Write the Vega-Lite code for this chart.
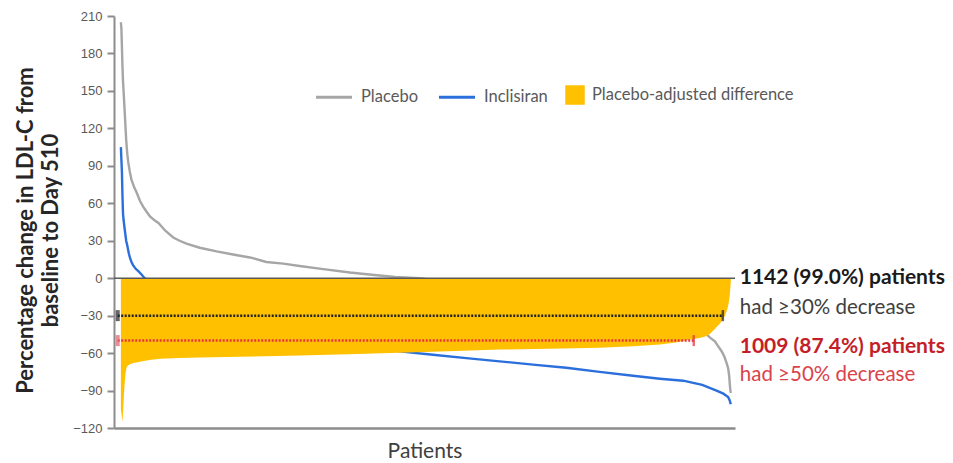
{
  "$schema": "https://vega.github.io/schema/vega-lite/v6.json",
  "width": 621,
  "height": 412,
  "autosize": {"type": "none"},
  "padding": {"left": 114, "top": 16, "right": 218, "bottom": 35},
  "background": "white",
  "config": {"view": {"stroke": null}, "font": "Lato", "axis": {"labelOverlap": false}, "axisY": {"labelOverlap": false, "tickCount": 12}},
  "datasets": {
    "curves": [
      {"series": "Placebo", "patient": 1, "value": 205},
      {"series": "Placebo", "patient": 2, "value": 200},
      {"series": "Placebo", "patient": 3, "value": 185},
      {"series": "Placebo", "patient": 4, "value": 170},
      {"series": "Placebo", "patient": 5, "value": 158},
      {"series": "Placebo", "patient": 7, "value": 143},
      {"series": "Placebo", "patient": 9, "value": 127},
      {"series": "Placebo", "patient": 11, "value": 111},
      {"series": "Placebo", "patient": 13, "value": 100},
      {"series": "Placebo", "patient": 15, "value": 92.7},
      {"series": "Placebo", "patient": 18, "value": 85},
      {"series": "Placebo", "patient": 21, "value": 79},
      {"series": "Placebo", "patient": 26, "value": 73},
      {"series": "Placebo", "patient": 31, "value": 68.4},
      {"series": "Placebo", "patient": 37, "value": 62},
      {"series": "Placebo", "patient": 43, "value": 57.3},
      {"series": "Placebo", "patient": 50, "value": 53},
      {"series": "Placebo", "patient": 56, "value": 49.5},
      {"series": "Placebo", "patient": 64, "value": 46.5},
      {"series": "Placebo", "patient": 72, "value": 44.3},
      {"series": "Placebo", "patient": 85, "value": 38},
      {"series": "Placebo", "patient": 100, "value": 32.6},
      {"series": "Placebo", "patient": 112, "value": 30},
      {"series": "Placebo", "patient": 125, "value": 27.6},
      {"series": "Placebo", "patient": 150, "value": 24.4},
      {"series": "Placebo", "patient": 182, "value": 21.5},
      {"series": "Placebo", "patient": 213, "value": 19},
      {"series": "Placebo", "patient": 245, "value": 16.6},
      {"series": "Placebo", "patient": 276, "value": 13},
      {"series": "Placebo", "patient": 308, "value": 11.7},
      {"series": "Placebo", "patient": 339, "value": 9.8},
      {"series": "Placebo", "patient": 380, "value": 7.5},
      {"series": "Placebo", "patient": 434, "value": 4.5},
      {"series": "Placebo", "patient": 480, "value": 2.5},
      {"series": "Placebo", "patient": 520, "value": 1},
      {"series": "Placebo", "patient": 566, "value": 0},
      {"series": "Placebo", "patient": 650, "value": -5},
      {"series": "Placebo", "patient": 750, "value": -11},
      {"series": "Placebo", "patient": 850, "value": -17},
      {"series": "Placebo", "patient": 950, "value": -23},
      {"series": "Placebo", "patient": 1000, "value": -27},
      {"series": "Placebo", "patient": 1060, "value": -33},
      {"series": "Placebo", "patient": 1090, "value": -39},
      {"series": "Placebo", "patient": 1108, "value": -45},
      {"series": "Placebo", "patient": 1116, "value": -48},
      {"series": "Placebo", "patient": 1124, "value": -50.5},
      {"series": "Placebo", "patient": 1131, "value": -55},
      {"series": "Placebo", "patient": 1137, "value": -58.7},
      {"series": "Placebo", "patient": 1142, "value": -63},
      {"series": "Placebo", "patient": 1146, "value": -67.8},
      {"series": "Placebo", "patient": 1149, "value": -72},
      {"series": "Placebo", "patient": 1151, "value": -78.2},
      {"series": "Placebo", "patient": 1152, "value": -84},
      {"series": "Placebo", "patient": 1153, "value": -89},
      {"series": "Placebo", "patient": 1154, "value": -92},
      {"series": "Inclisiran", "patient": 1, "value": 105},
      {"series": "Inclisiran", "patient": 2, "value": 95},
      {"series": "Inclisiran", "patient": 3, "value": 84.6},
      {"series": "Inclisiran", "patient": 4, "value": 66},
      {"series": "Inclisiran", "patient": 5, "value": 52},
      {"series": "Inclisiran", "patient": 6, "value": 47},
      {"series": "Inclisiran", "patient": 8, "value": 40},
      {"series": "Inclisiran", "patient": 11, "value": 30},
      {"series": "Inclisiran", "patient": 13, "value": 26.3},
      {"series": "Inclisiran", "patient": 16, "value": 20},
      {"series": "Inclisiran", "patient": 18, "value": 16.6},
      {"series": "Inclisiran", "patient": 21, "value": 13},
      {"series": "Inclisiran", "patient": 24, "value": 10.5},
      {"series": "Inclisiran", "patient": 29, "value": 7.5},
      {"series": "Inclisiran", "patient": 34, "value": 5.6},
      {"series": "Inclisiran", "patient": 40, "value": 3},
      {"series": "Inclisiran", "patient": 46, "value": 0},
      {"series": "Inclisiran", "patient": 70, "value": -8},
      {"series": "Inclisiran", "patient": 100, "value": -16},
      {"series": "Inclisiran", "patient": 150, "value": -27},
      {"series": "Inclisiran", "patient": 200, "value": -35},
      {"series": "Inclisiran", "patient": 300, "value": -45},
      {"series": "Inclisiran", "patient": 400, "value": -52},
      {"series": "Inclisiran", "patient": 470, "value": -55.5},
      {"series": "Inclisiran", "patient": 528, "value": -58.6},
      {"series": "Inclisiran", "patient": 591, "value": -61.3},
      {"series": "Inclisiran", "patient": 654, "value": -64},
      {"series": "Inclisiran", "patient": 717, "value": -66.6},
      {"series": "Inclisiran", "patient": 780, "value": -69.2},
      {"series": "Inclisiran", "patient": 843, "value": -71.7},
      {"series": "Inclisiran", "patient": 906, "value": -75},
      {"series": "Inclisiran", "patient": 969, "value": -78.2},
      {"series": "Inclisiran", "patient": 1020, "value": -80.5},
      {"series": "Inclisiran", "patient": 1064, "value": -82.1},
      {"series": "Inclisiran", "patient": 1100, "value": -85.5},
      {"series": "Inclisiran", "patient": 1127, "value": -90},
      {"series": "Inclisiran", "patient": 1140, "value": -92.5},
      {"series": "Inclisiran", "patient": 1149, "value": -95.2},
      {"series": "Inclisiran", "patient": 1152, "value": -98},
      {"series": "Inclisiran", "patient": 1154, "value": -101}
    ],
    "difference": [
      {"measure": "Placebo-adjusted difference", "patient": 1, "value": -105},
      {"measure": "Placebo-adjusted difference", "patient": 2, "value": -108},
      {"measure": "Placebo-adjusted difference", "patient": 3, "value": -112},
      {"measure": "Placebo-adjusted difference", "patient": 4, "value": -115},
      {"measure": "Placebo-adjusted difference", "patient": 5, "value": -108},
      {"measure": "Placebo-adjusted difference", "patient": 6, "value": -100},
      {"measure": "Placebo-adjusted difference", "patient": 7, "value": -92},
      {"measure": "Placebo-adjusted difference", "patient": 8, "value": -85},
      {"measure": "Placebo-adjusted difference", "patient": 9, "value": -80},
      {"measure": "Placebo-adjusted difference", "patient": 10, "value": -76},
      {"measure": "Placebo-adjusted difference", "patient": 12, "value": -71},
      {"measure": "Placebo-adjusted difference", "patient": 15, "value": -70},
      {"measure": "Placebo-adjusted difference", "patient": 18, "value": -69},
      {"measure": "Placebo-adjusted difference", "patient": 25, "value": -68},
      {"measure": "Placebo-adjusted difference", "patient": 37, "value": -67},
      {"measure": "Placebo-adjusted difference", "patient": 55, "value": -65.5},
      {"measure": "Placebo-adjusted difference", "patient": 75, "value": -64.5},
      {"measure": "Placebo-adjusted difference", "patient": 110, "value": -64},
      {"measure": "Placebo-adjusted difference", "patient": 150, "value": -63.5},
      {"measure": "Placebo-adjusted difference", "patient": 250, "value": -62.8},
      {"measure": "Placebo-adjusted difference", "patient": 339, "value": -62},
      {"measure": "Placebo-adjusted difference", "patient": 430, "value": -61},
      {"measure": "Placebo-adjusted difference", "patient": 528, "value": -59.8},
      {"measure": "Placebo-adjusted difference", "patient": 620, "value": -58.5},
      {"measure": "Placebo-adjusted difference", "patient": 717, "value": -57.2},
      {"measure": "Placebo-adjusted difference", "patient": 810, "value": -56.5},
      {"measure": "Placebo-adjusted difference", "patient": 906, "value": -55.7},
      {"measure": "Placebo-adjusted difference", "patient": 970, "value": -54.5},
      {"measure": "Placebo-adjusted difference", "patient": 1020, "value": -53.2},
      {"measure": "Placebo-adjusted difference", "patient": 1050, "value": -51.5},
      {"measure": "Placebo-adjusted difference", "patient": 1077, "value": -49.2},
      {"measure": "Placebo-adjusted difference", "patient": 1095, "value": -48},
      {"measure": "Placebo-adjusted difference", "patient": 1106, "value": -46.8},
      {"measure": "Placebo-adjusted difference", "patient": 1115, "value": -44.5},
      {"measure": "Placebo-adjusted difference", "patient": 1121, "value": -42},
      {"measure": "Placebo-adjusted difference", "patient": 1130, "value": -38},
      {"measure": "Placebo-adjusted difference", "patient": 1136, "value": -35},
      {"measure": "Placebo-adjusted difference", "patient": 1141, "value": -31.5},
      {"measure": "Placebo-adjusted difference", "patient": 1144, "value": -29},
      {"measure": "Placebo-adjusted difference", "patient": 1148, "value": -24},
      {"measure": "Placebo-adjusted difference", "patient": 1150, "value": -20},
      {"measure": "Placebo-adjusted difference", "patient": 1152, "value": -14},
      {"measure": "Placebo-adjusted difference", "patient": 1153, "value": -9},
      {"measure": "Placebo-adjusted difference", "patient": 1154, "value": -3}
    ],
    "thresholds": [
      {"group": "30", "threshold": -30, "from": -5, "to": 1139},
      {"group": "50", "threshold": -50, "from": -5, "to": 1084}
    ],
    "notes": [
      {"group": "30", "role": "count", "patient": 1171, "value": 0, "label": "1142 (99.0%) patients"},
      {"group": "30", "role": "desc", "patient": 1171, "value": -24, "label": "had ≥30% decrease"},
      {"group": "50", "role": "count", "patient": 1171, "value": -55.5, "label": "1009 (87.4%) patients"},
      {"group": "50", "role": "desc", "patient": 1171, "value": -77.5, "label": "had ≥50% decrease"}
    ],
    "baseline": [{"value": 0}]
  },
  "layer": [
    {
      "data": {"name": "curves"},
      "mark": {"type": "line", "strokeWidth": 2.4, "interpolate": "linear"},
      "encoding": {
        "x": {
          "field": "patient", "type": "quantitative",
          "scale": {"domain": [-12, 1162], "nice": false, "zero": false},
          "axis": {
            "title": "Patients", "labels": false, "ticks": false, "grid": false,
            "domainColor": "#8c8c8c", "domainWidth": 2.5,
            "titleFont": "Lato", "titleFontSize": 21, "titleFontWeight": "normal",
            "titleColor": "#404040", "titlePadding": 12
          }
        },
        "y": {
          "field": "value", "type": "quantitative",
          "scale": {"domain": [-120, 210], "nice": false, "zero": false},
          "axis": {
            "title": ["Percentage change in LDL-C from", "baseline to Day 510"],
            "values": [-120, -90, -60, -30, 0, 30, 60, 90, 120, 150, 180, 210],
            "labelOverlap": false,
            "tickCount": 12,
            "grid": false,
            "domainColor": "#8c8c8c", "domainWidth": 2,
            "tickColor": "#8c8c8c", "tickWidth": 2, "tickSize": 7,
            "labelFont": "Liberation Sans",
            "labelFontSize": 13, "labelColor": "#595959", "labelPadding": 5,
            "titleFont": "Lato", "titleFontSize": 22, "titleFontWeight": "bold",
            "titleColor": "#262626", "titleLineHeight": 25, "titlePadding": 10,
            "titleY": 214
          }
        },
        "stroke": {
          "field": "series", "type": "nominal",
          "scale": {"domain": ["Placebo", "Inclisiran"], "range": ["#a6a6a6", "#2a6fdb"]},
          "legend": {
            "orient": "none", "legendX": 200, "legendY": 61, "direction": "horizontal",
            "title": null, "symbolType": "stroke", "symbolSize": 1300, "symbolStrokeWidth": 3,
            "labelFont": "Lato", "labelFontSize": 16.5, "labelColor": "#595959", "labelLimit": 0,
            "labelOffset": 7, "columnPadding": 14, "padding": 0
          }
        }
      }
    },
    {
      "data": {"name": "difference"},
      "mark": {"type": "area", "opacity": 1, "interpolate": "linear"},
      "encoding": {
        "x": {"field": "patient", "type": "quantitative"},
        "y": {"field": "value", "type": "quantitative"},
        "y2": {"datum": 0},
        "fill": {
          "field": "measure", "type": "nominal",
          "scale": {"range": ["#ffc000"]},
          "legend": {
            "orient": "none", "legendX": 451, "legendY": 69,
            "title": null, "symbolType": "square", "symbolSize": 380, "symbolStrokeWidth": 0,
            "labelFont": "Lato", "labelFontSize": 16.5, "labelColor": "#595959", "labelLimit": 0,
            "labelOffset": 7, "padding": 0
          }
        }
      }
    },
    {
      "data": {"name": "baseline"},
      "mark": {"type": "rule", "color": "#595959", "strokeWidth": 1.5},
      "encoding": {"y": {"field": "value", "type": "quantitative"}}
    },
    {
      "data": {"name": "thresholds"},
      "mark": {"type": "rule", "strokeWidth": 2.5, "strokeDash": [2, 1.5]},
      "encoding": {
        "x": {"field": "from", "type": "quantitative"},
        "x2": {"field": "to"},
        "y": {"field": "threshold", "type": "quantitative"},
        "color": {"condition": {"test": "datum.group === '50'", "value": "#e8363d"}, "value": "#222222"}
      }
    },
    {
      "data": {"name": "thresholds"},
      "mark": {"type": "tick", "orient": "vertical", "size": 11, "thickness": 4},
      "encoding": {
        "x": {"field": "from", "type": "quantitative"},
        "y": {"field": "threshold", "type": "quantitative"},
        "color": {"condition": {"test": "datum.group === '50'", "value": "#e05c6a"}, "value": "#222222"}
      }
    },
    {
      "data": {"name": "thresholds"},
      "mark": {"type": "tick", "orient": "vertical", "size": 11, "thickness": 2.5},
      "encoding": {
        "x": {"field": "to", "type": "quantitative"},
        "y": {"field": "threshold", "type": "quantitative"},
        "color": {"condition": {"test": "datum.group === '50'", "value": "#e0303a"}, "value": "#222222"}
      }
    },
    {
      "data": {"name": "notes"},
      "transform": [{"filter": "datum.role === 'count'"}],
      "mark": {"type": "text", "align": "left", "baseline": "middle", "font": "Lato", "fontSize": 21, "fontWeight": "bold"},
      "encoding": {
        "x": {"field": "patient", "type": "quantitative"},
        "y": {"field": "value", "type": "quantitative"},
        "text": {"field": "label"},
        "color": {"condition": {"test": "datum.group === '50'", "value": "#c41e28"}, "value": "#1a1a1a"}
      }
    },
    {
      "data": {"name": "notes"},
      "transform": [{"filter": "datum.role === 'desc'"}],
      "mark": {"type": "text", "align": "left", "baseline": "middle", "font": "Lato", "fontSize": 20.5, "fontWeight": "normal"},
      "encoding": {
        "x": {"field": "patient", "type": "quantitative"},
        "y": {"field": "value", "type": "quantitative"},
        "text": {"field": "label"},
        "color": {"condition": {"test": "datum.group === '50'", "value": "#d9434b"}, "value": "#404040"}
      }
    }
  ]
}
